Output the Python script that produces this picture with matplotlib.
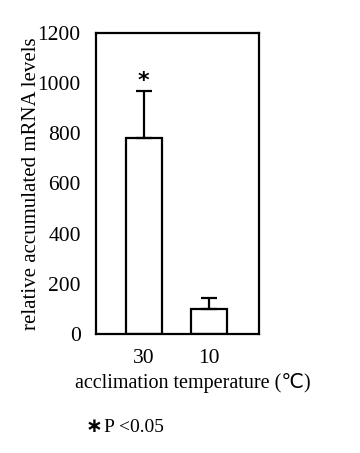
import matplotlib.pyplot as plt

temps = ["30", "10"]
levels = [780, 100]
errs = [187, 43]

plt.rcParams['font.family'] = ['Liberation Serif', 'DejaVu Sans', 'Noto Sans CJK JP']

fig = plt.figure(figsize=(3.6, 4.53), dpi=100)
ax = fig.add_axes([96 / 360, 1 - 334 / 453, 163 / 360, 301 / 453])

x = range(len(temps))
ax.bar(x, levels, width=0.555, color="white", edgecolor="black", linewidth=1.6)
ax.errorbar(x, levels, yerr=[[0, 0], errs], fmt="none", ecolor="black",
            elinewidth=1.6, capsize=6, capthick=1.6)
ax.text(0, 1010, "*", ha="center", va="center", fontsize=16, fontweight="bold",
        family="DejaVu Sans")

ax.set_xlim(-0.73, 1.76)
ax.set_ylim(0, 1200)
ax.set_yticks(range(0, 1201, 200))
ax.set_xticks(list(x))
ax.set_xticklabels(temps)
ax.tick_params(length=0, labelsize=15.5)
ax.tick_params(axis="y", pad=11)
ax.tick_params(axis="x", pad=11)
for s in ax.spines.values():
    s.set_linewidth(1.6)

ax.set_ylabel("relative accumulated mRNA levels", fontsize=15)
ax.yaxis.set_label_coords(-0.335, 0.5)
fig.text(193 / 360, 1 - 383 / 453, "acclimation temperature (℃)", ha="center",
         va="center", fontsize=14.5)
fig.text(86 / 360, 1 - 427 / 453, "∗", ha="left", va="center", fontsize=14.5,
         fontweight="bold", family="DejaVu Sans")
fig.text(104 / 360, 1 - 427 / 453, "P <0.05", ha="left", va="center", fontsize=14)

fig.savefig("out.png")
